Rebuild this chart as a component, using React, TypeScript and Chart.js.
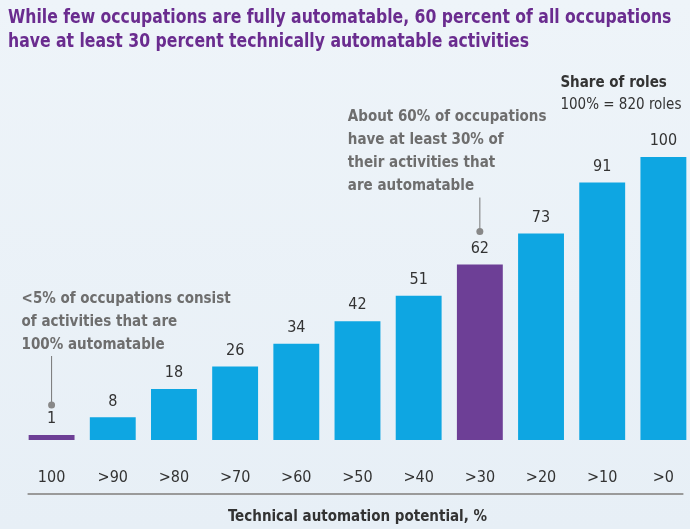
import React, { useEffect, useRef } from "react";
import { Chart, registerables } from "chart.js";

Chart.register(...registerables);

const categories = ["100", ">90", ">80", ">70", ">60", ">50", ">40", ">30", ">20", ">10", ">0"];
const shareValues = [1, 8, 18, 26, 34, 42, 51, 62, 73, 91, 100];
const highlighted = [true, false, false, false, false, false, false, true, false, false, false];
const titleLines = [
  "While few occupations are fully automatable, 60 percent of all occupations",
  "have at least 30 percent technically automatable activities",
];
const axisTitle = "Technical automation potential, %";
const legendTitle = "Share of roles";
const legendSub = "100% = 820 roles";
const noteLow = ["<5% of occupations consist", "of activities that are", "100% automatable"];
const noteMid = ["About 60% of occupations", "have at least 30% of", "their activities that", "are automatable"];

const FONT = '"DejaVu Sans Condensed", "Liberation Sans Narrow", sans-serif';
const CYAN = "#0ea6e2";
const PURPLE = "#6d3f96";
const TITLE_PURPLE = "#6a2c8f";

const annotations = [
  { index: 0, dx: -30, dot: 14, gap: 60, lines: noteLow },
  { index: 7, dx: -132, dot: 17, gap: 45, lines: noteMid },
];

const overlayPlugin = {
  id: "overlay",
  afterDraw(chart: any) {
    const ctx = chart.ctx;
    const meta = chart.getDatasetMeta(0);
    const area = chart.chartArea;
    ctx.save();
    // title (condensed horizontally to match the narrow face)
    ctx.font = `bold 20px ${FONT}`;
    ctx.fillStyle = TITLE_PURPLE;
    ctx.textAlign = "left";
    ctx.textBaseline = "middle";
    const sx = 521 / ctx.measureText(titleLines[1]).width;
    titleLines.forEach((line, k) => {
      ctx.save();
      ctx.translate(8, 18 + k * 24);
      ctx.scale(sx, 1);
      ctx.fillText(line, 0, 0);
      ctx.restore();
    });
    // value labels
    ctx.font = `16px ${FONT}`;
    ctx.fillStyle = "#333";
    ctx.textAlign = "center";
    ctx.textBaseline = "middle";
    meta.data.forEach((bar: any, i: number) => {
      ctx.fillText(String(shareValues[i]), bar.x, bar.y - 16);
    });
    // annotations
    annotations.forEach((a) => {
      const bar = meta.data[a.index];
      const labelY = bar.y - 16;
      const dotY = labelY - a.dot;
      const lastY = dotY - a.gap;
      ctx.strokeStyle = "#777";
      ctx.lineWidth = 1;
      ctx.beginPath();
      ctx.moveTo(bar.x, lastY + 11);
      ctx.lineTo(bar.x, dotY);
      ctx.stroke();
      ctx.fillStyle = "#888";
      ctx.beginPath();
      ctx.arc(bar.x, dotY, 3.5, 0, Math.PI * 2);
      ctx.fill();
      ctx.font = `bold 15px ${FONT}`;
      ctx.fillStyle = "#6e6e6e";
      ctx.textAlign = "left";
      ctx.textBaseline = "middle";
      const n = a.lines.length;
      a.lines.forEach((line, k) => {
        ctx.fillText(line, bar.x + a.dx, lastY - (n - 1 - k) * 23);
      });
    });
    // legend note
    const last = meta.data[meta.data.length - 1];
    ctx.textAlign = "left";
    ctx.fillStyle = "#333";
    ctx.font = `bold 15px ${FONT}`;
    ctx.fillText(legendTitle, last.x - 103, last.y - 74);
    ctx.font = `15px ${FONT}`;
    ctx.fillText(legendSub, last.x - 103, last.y - 52);
    // axis rule
    ctx.strokeStyle = "#9a9a9a";
    ctx.lineWidth = 2;
    ctx.beginPath();
    ctx.moveTo(meta.data[0].x - 24, area.bottom + 54);
    ctx.lineTo(last.x + 20, area.bottom + 54);
    ctx.stroke();
    ctx.restore();
  },
};

export default function App() {
  const ref = useRef<HTMLCanvasElement>(null);
  useEffect(() => {
    const chart = new Chart(ref.current as HTMLCanvasElement, {
      type: "bar",
      data: {
        labels: categories,
        datasets: [
          {
            data: shareValues,
            backgroundColor: highlighted.map((h) => (h ? PURPLE : CYAN)),
            barPercentage: 0.75,
            categoryPercentage: 1,
            minBarLength: 5,
          },
        ],
      },
      options: {
        animation: false,
        responsive: true,
        maintainAspectRatio: false,
        layout: { padding: { left: 21, right: 0, top: 157, bottom: 0 } },
        plugins: {
          legend: { display: false },
          tooltip: { enabled: false },
          title: { display: false },
        },
        scales: {
          x: {
            grid: { display: false },
            border: { display: false },
            ticks: {
              color: "#333",
              font: { family: FONT, size: 16 },
              padding: 20,
              maxRotation: 0,
              autoSkip: false,
            },
            title: {
              display: true,
              text: axisTitle,
              color: "#333",
              font: { family: FONT, size: 15, weight: "bold", lineHeight: 1.2 },
              padding: { top: 19, bottom: 3 },
            },
            afterFit(scale: any) {
              scale.height = 89;
            },
          },
          y: { display: false, min: 0, max: 100 },
        },
      },
      plugins: [overlayPlugin],
    });
    return () => chart.destroy();
  }, []);
  return (
    <div
      style={{
        position: "fixed",
        left: 0,
        top: 0,
        width: 690,
        height: 529,
        overflow: "hidden",
        background: "linear-gradient(180deg, #eef4f9 0%, #e7eff6 100%)",
      }}
    >
      <div style={{ position: "relative", width: 694, height: 529 }}>
        <canvas ref={ref} />
      </div>
    </div>
  );
}
